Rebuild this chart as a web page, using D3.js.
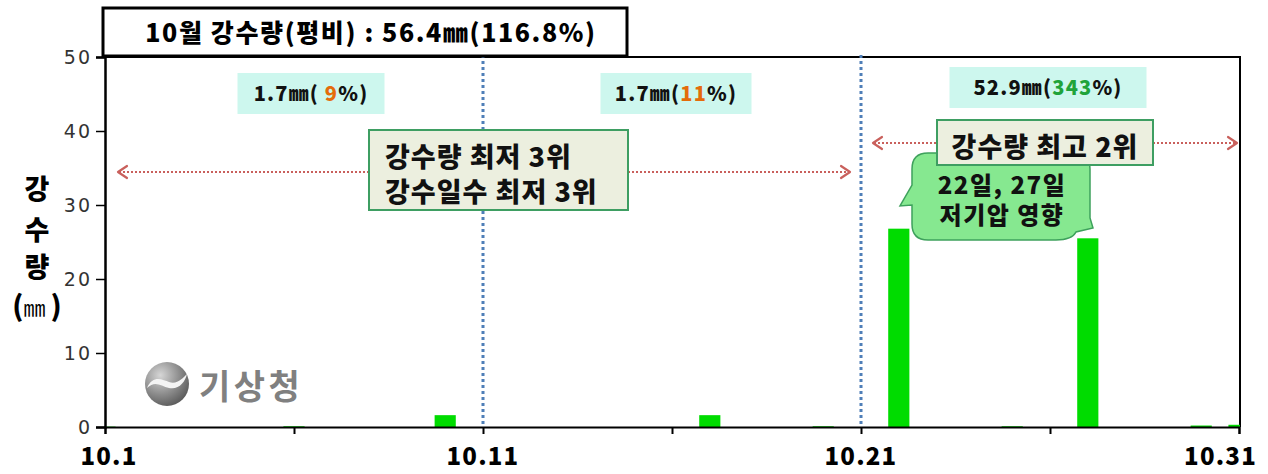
<!DOCTYPE html>
<html>
<head>
<meta charset="utf-8">
<script src="https://cdn.jsdelivr.net/npm/d3@7"></script>
<style>
  html, body { margin: 0; padding: 0; background: #fff; }
  svg { display: block; }
  .ko { font-family: "Noto Sans CJK KR", "Noto Sans", sans-serif; }
</style>
</head>
<body>
<svg id="chart" width="1268" height="474"></svg>
<script>
// Daily precipitation for October (mm), day 1..31
const days = d3.range(1, 32);
const rainfall = [
  0.05, 0, 0, 0, 0, 0.1, 0, 0, 0, 1.6,
  0, 0, 0, 0, 0, 0, 1.6, 0, 0, 0.1,
  0, 26.8, 0, 0, 0.1, 0, 25.5, 0, 0, 0.2, 0.3
];
const yTicks = [0, 10, 20, 30, 40, 50];
const xTickDays = [1, 6, 11, 16, 21, 26, 31];
const xLabelDays = [1, 11, 21, 31];
const xLabels = ["10.1", "10.11", "10.21", "10.31"];
const dekadMarks = [11, 21];

// Per-dekad summaries: [text before, highlighted value, text after]
const dekadSummary = [
  { parts: ["1.7㎜( ", "9", "%)"],   hi: "#e46c0a" },
  { parts: ["1.7㎜(", "11", "%)"],   hi: "#e46c0a" },
  { parts: ["52.9㎜(", "343", "%)"], hi: "#1fa33a" }
];
const titleText = "10월 강수량(평비) : 56.4㎜(116.8%)";

const svg = d3.select("#chart");
const L = 105, R = 1240, T = 57, B = 427;

const x = d3.scaleLinear().domain([1, 31]).range([L, 1239]);
const y = d3.scaleLinear().domain([0, 50]).range([B, T]);
const barW = (x(2) - x(1)) * 0.56;

// Plot frame (top and right)
svg.append("path")
  .attr("d", `M${L},${T}H${R}V${B}`)
  .attr("fill", "none").attr("stroke", "#000").attr("stroke-width", 2);

// Bars, clipped to the plot area
svg.append("clipPath").attr("id", "plotClip")
  .append("rect").attr("x", L).attr("y", T).attr("width", R - L).attr("height", B - T);

svg.append("g").attr("clip-path", "url(#plotClip)")
  .selectAll("rect").data(days.map((d, i) => ({ d, v: rainfall[i] })).filter(o => o.v > 0))
  .join("rect")
  .attr("x", o => x(o.d) - barW / 2)
  .attr("y", o => y(o.v))
  .attr("width", barW)
  .attr("height", o => B - y(o.v))
  .attr("fill", "#00dc00");

// Dekad separators
svg.append("g").selectAll("line").data(dekadMarks).join("line")
  .attr("x1", d => x(d)).attr("x2", d => x(d))
  .attr("y1", T - 2).attr("y2", B)
  .attr("stroke", "#4f7fb8").attr("stroke-width", 3)
  .attr("stroke-dasharray", "3,3");

// Y axis
const yAxis = svg.append("g").attr("transform", `translate(${L},0)`)
  .call(d3.axisLeft(y).tickValues(yTicks).tickSize(9).tickPadding(4));
yAxis.select(".domain").attr("stroke", "#000").attr("stroke-width", 2.5);
yAxis.selectAll(".tick line").attr("stroke", "#000").attr("stroke-width", 1.5);
yAxis.selectAll(".tick text")
  .attr("font-family", "'DejaVu Sans', sans-serif")
  .attr("font-size", 19).attr("fill", "#333").attr("letter-spacing", 2);

// X axis
const xAxis = svg.append("g").attr("transform", `translate(0,${B})`)
  .call(d3.axisBottom(x).tickValues(xTickDays).tickSize(7).tickFormat(""));
xAxis.select(".domain").attr("stroke", "#000").attr("stroke-width", 2);
xAxis.selectAll(".tick line").attr("stroke", "#000").attr("stroke-width", 2);

// Day labels; the last one is kept inside the frame
svg.append("g").selectAll("text").data(xLabelDays).join("text")
  .attr("class", "ko")
  .attr("x", (d, i) => i === xLabelDays.length - 1 ? 1257 : x(d) + (i === 0 ? 4 : 0))
  .attr("y", 465)
  .attr("text-anchor", (d, i) => i === xLabelDays.length - 1 ? "end" : "middle")
  .attr("font-size", 24).attr("font-weight", 900).attr("letter-spacing", 1.2)
  .text((d, i) => xLabels[i]);

// Y axis title, stacked vertically
const yTitle = svg.append("g").attr("class", "ko").attr("font-weight", 900).attr("fill", "#000");
[["강", 199], ["수", 240], ["량", 277]].forEach(([ch, yy]) => {
  yTitle.append("text").attr("x", 37).attr("y", yy)
    .attr("text-anchor", "middle").attr("font-size", 27).text(ch);
});
const unit = yTitle.append("text").attr("x", 37).attr("y", 316).attr("text-anchor", "middle");
unit.append("tspan").attr("font-size", 28).text("(");
unit.append("tspan").attr("font-size", 22).attr("font-weight", 400).text("㎜ ");
unit.append("tspan").attr("font-size", 28).text(")");

// Title box
svg.append("rect").attr("x", 103).attr("y", 8).attr("width", 524).attr("height", 48)
  .attr("fill", "#fff").attr("stroke", "#000").attr("stroke-width", 3);
svg.append("text").attr("class", "ko")
  .attr("x", 371).attr("y", 42).attr("text-anchor", "middle")
  .attr("font-size", 25).attr("font-weight", 900).attr("letter-spacing", 1.6)
  .text(titleText);

// Dekad summary boxes
const boxCX = [311, 676, 1048];
const boxW = [147, 151, 197];
const boxY = [73, 73, 67];
dekadSummary.forEach((s, i) => {
  const cx = boxCX[i];
  svg.append("rect").attr("x", cx - boxW[i] / 2).attr("y", boxY[i])
    .attr("width", boxW[i]).attr("height", 41).attr("fill", "#cdf7ee");
  const t = svg.append("text").attr("class", "ko")
    .attr("x", cx).attr("y", boxY[i] + 28).attr("text-anchor", "middle")
    .attr("font-size", 20).attr("font-weight", 900).attr("letter-spacing", 1.2)
    .attr("fill", "#111");
  t.append("tspan").text(s.parts[0]);
  t.append("tspan").attr("fill", s.hi).text(s.parts[1]);
  t.append("tspan").text(s.parts[2]);
});

// Dotted arrows spanning periods
const arrowColor = "#c9605c";
function arrowHead(px, py, dir) {
  svg.append("path")
    .attr("d", `M${px - dir * 9},${py - 6}L${px},${py}L${px - dir * 9},${py + 6}`)
    .attr("fill", "none").attr("stroke", arrowColor).attr("stroke-width", 2.2)
    .attr("stroke-linejoin", "round").attr("stroke-linecap", "round");
}
function dottedSeg(x1, x2, py) {
  svg.append("line").attr("x1", x1).attr("x2", x2).attr("y1", py).attr("y2", py)
    .attr("stroke", arrowColor).attr("stroke-width", 2).attr("stroke-dasharray", "2,2");
}
dottedSeg(119, 369, 172); arrowHead(118, 172, -1);
dottedSeg(628, 849, 172); arrowHead(850, 172, 1);
dottedSeg(874, 937, 143); arrowHead(873, 143, -1);
dottedSeg(1153, 1236, 143); arrowHead(1237, 143, 1);

// Rank boxes
function rankBox(bx, by, bw, bh, lines, tx, anchor) {
  svg.append("rect").attr("x", bx).attr("y", by).attr("width", bw).attr("height", bh)
    .attr("fill", "#ecefdf").attr("stroke", "#3e9e62").attr("stroke-width", 2);
  const t = svg.append("text").attr("class", "ko")
    .attr("x", tx).attr("y", by + 37).attr("text-anchor", anchor)
    .attr("font-size", 27).attr("font-weight", 900).attr("letter-spacing", 1)
    .attr("fill", "#111");
  lines.forEach((ln, i) => {
    t.append("tspan").attr("x", tx).attr("dy", i === 0 ? 0 : 35).text(ln);
  });
}
rankBox(369, 130, 259, 80, ["강수량 최저  3위", "강수일수 최저 3위"], 385, "start");

// Speech bubble for the two rain events
const bub = { x0: 912, y0: 153, x1: 1090, y1: 240, r: 16 };
const bubblePath = [
  `M${bub.x0 + bub.r},${bub.y0}`,
  `H${bub.x1 - bub.r}`,
  `Q${bub.x1},${bub.y0} ${bub.x1},${bub.y0 + bub.r}`,
  `V${bub.y1 - 22}`,
  `L${bub.x1 + 3},${bub.y1 - 12}`,
  `L${bub.x1 - 14},${bub.y1 - 8}`,
  `Q${bub.x1 - 18},${bub.y1} ${bub.x1 - 34},${bub.y1}`,
  `H${bub.x0 + bub.r}`,
  `Q${bub.x0},${bub.y1} ${bub.x0},${bub.y1 - bub.r}`,
  `V${bub.y0 + 52}`,
  `L${bub.x0 - 12},${bub.y0 + 53}`,
  `L${bub.x0},${bub.y0 + 32}`,
  `V${bub.y0 + bub.r}`,
  `Q${bub.x0},${bub.y0} ${bub.x0 + bub.r},${bub.y0}`,
  "Z"
].join("");
svg.append("path").attr("d", bubblePath)
  .attr("fill", "#86e890").attr("stroke", "#3ea15c").attr("stroke-width", 1.5);
const bubText = svg.append("text").attr("class", "ko")
  .attr("x", 1002).attr("y", 194).attr("text-anchor", "middle")
  .attr("font-size", 24).attr("font-weight", 900).attr("letter-spacing", 1.5)
  .attr("fill", "#111");
["22일, 27일", "저기압 영향"].forEach((ln, i) => {
  bubText.append("tspan").attr("x", 1002).attr("dy", i === 0 ? 0 : 30).text(ln);
});

rankBox(937, 120, 216, 45, ["강수량 최고 2위"], 1045, "middle");

// Agency logo
const defs = svg.append("defs");
const grad = defs.append("radialGradient").attr("id", "logoGrad")
  .attr("cx", "35%").attr("cy", "30%").attr("r", "75%");
grad.append("stop").attr("offset", "0%").attr("stop-color", "#d6d6d6");
grad.append("stop").attr("offset", "60%").attr("stop-color", "#8a8a8a");
grad.append("stop").attr("offset", "100%").attr("stop-color", "#5a5a5a");
const logo = svg.append("g").attr("transform", "translate(167,384)");
logo.append("circle").attr("r", 22).attr("fill", "url(#logoGrad)");
logo.append("path")
  .attr("d", "M-20,4 C-14,-10 -4,-4 2,-2 C10,1 16,-6 20,-10 C18,-2 12,6 2,4 C-6,2 -12,-4 -20,4 Z")
  .attr("fill", "#f4f4f4");
svg.append("text").attr("class", "ko")
  .attr("x", 199).attr("y", 399)
  .attr("font-size", 34).attr("font-weight", 700).attr("fill", "#808080")
  .attr("letter-spacing", 3.5).text("기상청");
</script>
</body>
</html>
